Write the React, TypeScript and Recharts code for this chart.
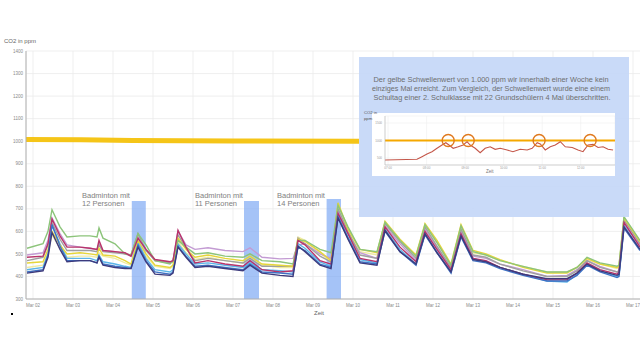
import { LineChart, Line, XAxis, YAxis, CartesianGrid, ReferenceArea, ReferenceDot } from 'recharts';

// time in days (Mar 02 = 2.0)
const days = [
  1.85, 2.25, 2.375, 2.475, 2.675, 2.85, 3.175, 3.425, 3.6, 3.65,
  3.75, 4.05, 4.3, 4.45, 4.625, 4.825, 5.05, 5.425, 5.5, 5.625,
  5.825, 6.05, 6.375, 6.8, 7.25, 7.425, 7.725, 8.175, 8.5, 8.625,
  8.8, 9.175, 9.45, 9.625, 9.875, 10.175, 10.6, 10.8, 11.175, 11.575,
  11.8, 12.1, 12.45, 12.7, 13.0, 13.325, 13.675, 14.25, 14.85, 15.35,
  15.6, 15.85, 16.175, 16.6, 16.65, 16.775, 17.175,
];

const green = [525, 545, 600, 696, 620, 575, 580, 580, 575, 615, 570, 545, 500, 495, 590, 540, 470, 455, 470, 560, 530, 500, 505, 490, 485, 500, 470, 465, 455, 560, 560, 520, 505, 715, 620, 520, 510, 640, 560, 490, 630, 550, 450, 625, 510, 495, 470, 445, 420, 420, 440, 485, 460, 445, 450, 665, 560];
const lavender = [495, 505, 560, 660, 590, 540, 530, 525, 520, 545, 515, 510, 500, 490, 575, 520, 470, 465, 470, 600, 540, 520, 527, 515, 510, 527, 485, 478, 480, 540, 545, 500, 480, 690, 590, 505, 480, 625, 545, 470, 610, 530, 430, 600, 490, 480, 455, 430, 400, 405, 430, 470, 445, 420, 425, 630, 540];
const crimson = [485, 490, 545, 655, 580, 530, 530, 525, 520, 560, 515, 510, 505, 490, 570, 520, 475, 465, 470, 605, 530, 460, 470, 455, 445, 470, 430, 420, 425, 560, 540, 470, 455, 680, 590, 480, 465, 620, 530, 465, 600, 520, 430, 590, 480, 470, 440, 410, 385, 385, 415, 460, 430, 410, 420, 640, 530];
const gray = [470, 485, 540, 640, 565, 515, 515, 515, 510, 540, 510, 505, 500, 495, 590, 515, 470, 460, 465, 585, 525, 470, 480, 470, 460, 480, 445, 445, 445, 570, 545, 490, 465, 700, 600, 495, 480, 635, 555, 480, 620, 535, 440, 610, 495, 485, 455, 425, 400, 400, 425, 470, 440, 420, 425, 650, 545];
const yellow = [460, 465, 520, 600, 540, 500, 505, 500, 495, 525, 495, 490, 470, 455, 560, 500, 450, 440, 450, 570, 520, 485, 495, 480, 470, 490, 455, 450, 445, 565, 555, 510, 470, 727, 610, 520, 505, 645, 565, 495, 635, 560, 455, 630, 515, 500, 475, 440, 415, 415, 440, 480, 455, 440, 445, 660, 555];
const paleYellow = [440, 450, 505, 585, 525, 485, 490, 490, 485, 505, 490, 480, 460, 450, 545, 490, 445, 435, 445, 555, 505, 475, 485, 470, 460, 480, 450, 440, 440, 575, 560, 505, 465, 710, 600, 510, 495, 635, 555, 490, 625, 550, 450, 615, 505, 495, 470, 445, 420, 420, 440, 475, 455, 435, 440, 655, 550];
const lightBlue = [430, 440, 500, 625, 545, 480, 480, 480, 470, 495, 465, 455, 445, 440, 550, 480, 430, 420, 430, 545, 500, 455, 460, 450, 440, 460, 430, 425, 420, 545, 525, 465, 445, 670, 575, 475, 460, 610, 520, 455, 590, 510, 420, 585, 480, 465, 440, 410, 380, 375, 410, 455, 425, 400, 405, 625, 520];
const blue = [420, 430, 495, 630, 535, 470, 470, 470, 460, 490, 455, 445, 440, 435, 540, 470, 420, 410, 420, 535, 490, 445, 450, 440, 430, 455, 420, 415, 410, 530, 515, 455, 440, 665, 570, 465, 455, 600, 510, 450, 585, 505, 415, 575, 470, 460, 435, 405, 380, 380, 405, 450, 420, 395, 400, 615, 515];
const navy = [415, 425, 485, 595, 520, 465, 470, 470, 460, 485, 450, 440, 435, 435, 530, 465, 410, 405, 415, 530, 485, 440, 445, 435, 425, 450, 415, 405, 400, 535, 510, 450, 435, 660, 565, 460, 450, 605, 510, 455, 590, 505, 420, 580, 475, 465, 440, 410, 390, 390, 415, 455, 425, 405, 410, 620, 520];

const thresholdDays = [1.825, 3.2, 4.5, 7.0, 10.15];
const thresholdValues = [1007, 1006, 1003, 1001, 1000];

const dayTicks = [2, 3, 4, 5, 6, 7, 8, 9, 10, 11, 12, 13, 14, 15, 16, 17];
const dayLabels = ['Mar 02', 'Mar 03', 'Mar 04', 'Mar 05', 'Mar 06', 'Mar 07', 'Mar 08', 'Mar 09', 'Mar 10', 'Mar 11', 'Mar 12', 'Mar 13', 'Mar 14', 'Mar 15', 'Mar 16', 'Mar 17'];
const ppmTicks = [300, 400, 500, 600, 700, 800, 900, 1000, 1100, 1200, 1300, 1400];

// badminton sessions: start/end in days, top in ppm
const badmintonStart = [4.47, 7.275, 9.34];
const badmintonEnd = [4.82, 7.65, 9.7];
const badmintonTop = [735, 735, 744];
const badmintonText = ['12 Personen', '11 Personen', '14 Personen'];

// inset: one school day
const insetHours = [6.92, 7.75, 7.88, 8.01, 8.14, 8.27, 8.4, 8.5, 8.58, 8.69, 8.82, 8.95, 9.05, 9.13, 9.26, 9.39, 9.52, 9.65, 9.78, 9.91, 10.09, 10.24, 10.43, 10.61, 10.74, 10.87, 10.95, 11.08, 11.21, 11.34, 11.47, 11.6, 11.78, 11.93, 12.06, 12.19, 12.32, 12.45, 12.58, 12.71, 12.84];
const insetPpm = [443, 463, 537, 614, 680, 777, 871, 937, 871, 777, 820, 871, 966, 871, 777, 652, 777, 820, 748, 777, 730, 680, 748, 730, 777, 937, 900, 730, 820, 871, 966, 820, 800, 730, 680, 871, 890, 800, 820, 748, 730];
const insetCircles = [8.56, 9.08, 10.92, 12.245];
const insetHourTicks = [7, 8, 9, 10, 11, 12];
const insetHourLabels = ['07:00', '08:00', '09:00', '10:00', '11:00', '12:00'];

const seriesColors: [string, number[]][] = [
  ['#f0eba0', paleYellow],
  ['#c39bd3', lavender],
  ['#a0a0a0', gray],
  ['#5bb5e8', lightBlue],
  ['#e6d63a', yellow],
  ['#8cc47a', green],
  ['#b8336a', crimson],
  ['#3f72c4', blue],
  ['#3d3a7c', navy],
];

const rows = days.map((d, i) => {
  const r: Record<string, number> = { day: d };
  seriesColors.forEach(([, vals], k) => { r['s' + k] = vals[i]; });
  return r;
});
const thresholdRows = thresholdDays.map((d, i) => ({ day: d, v: thresholdValues[i] }));
const insetRows = insetHours.map((h, i) => ({ h, v: insetPpm[i] }));
const insetLine = [{ h: 6.92, v: 1000 }, { h: 12.89, v: 1000 }];

const FONT = '"Liberation Sans", Arial, sans-serif';

const DayTick = ({ x, y, payload }: any) => (
  <text x={x} y={y} textAnchor="middle" fontSize={4.5} fill="#8a8a8a" fontFamily={FONT}>
    {dayLabels[dayTicks.indexOf(payload.value)]}
  </text>
);
const PpmTick = ({ y, payload }: any) => (
  <text x={23} y={y + 1.6} textAnchor="end" fontSize={4.5} fill="#8a8a8a" fontFamily={FONT}>
    {payload.value}
  </text>
);

export default function App() {
  return (
    <div style={{ position: 'absolute', left: 0, top: 0, width: 640, height: 360, overflow: 'hidden', background: '#fff', fontFamily: FONT }}>
      <LineChart width={690} height={360} data={rows} margin={{ top: 51, right: 17, bottom: 0, left: 0 }}>
        <CartesianGrid stroke="#ebebeb" strokeWidth={0.8} />
        <XAxis dataKey="day" type="number" domain={[1.825, 18]} ticks={dayTicks} interval={0} allowDataOverflow height={61}
          tick={<DayTick />} tickLine={false} axisLine={{ stroke: '#b0b0b0' }} />
        <YAxis type="number" domain={[300, 1400]} ticks={ppmTicks} interval={0} width={26} tick={<PpmTick />}
          tickLine={false} axisLine={{ stroke: '#b0b0b0' }} />
        <Line data={thresholdRows} dataKey="v" stroke="#f5c518" strokeWidth={5} dot={false} isAnimationActive={false} />
        {seriesColors.map(([c], k) => (
          <Line key={k} dataKey={'s' + k} stroke={c} strokeWidth={1.4} dot={false} isAnimationActive={false} />
        ))}
        {badmintonStart.map((s, i) => (
          <ReferenceArea key={i} x1={s} x2={badmintonEnd[i]} y1={300} y2={badmintonTop[i]} fill="#7fa9f3" fillOpacity={0.7} stroke="none" />
        ))}
      </LineChart>

      <div style={{ position: 'absolute', left: 4, top: 38, fontSize: 6, color: '#666' }}>CO2 in ppm</div>
      <div style={{ position: 'absolute', left: 314, top: 310, fontSize: 6, color: '#666' }}>Zeit</div>
      <div style={{ position: 'absolute', left: 11, top: 313, width: 2, height: 2, background: '#000' }} />

      <svg width={640} height={360} style={{ position: 'absolute', left: 0, top: 0 }}>
        {[82, 195, 277].map((x, i) => (
          <g key={i} fontSize={7.5} fill="#7f7f7f" fontFamily={FONT}>
            <text x={x} y={198}>Badminton mit</text>
            <text x={x} y={206}>{badmintonText[i]}</text>
          </g>
        ))}
      </svg>

      <div style={{ position: 'absolute', left: 359, top: 57, width: 270, height: 160, background: 'rgba(197,215,247,0.93)' }} />
      <svg width={640} height={360} style={{ position: 'absolute', left: 0, top: 0 }}>
        <g fontSize={7.5} fill="#6e6e6e" fontFamily={FONT} textAnchor="middle">
          <text x={491} y={82} textLength={235} lengthAdjust="spacingAndGlyphs">Der gelbe Schwellenwert von 1.000 ppm wir innerhalb einer Woche kein</text>
          <text x={491} y={91} textLength={238} lengthAdjust="spacingAndGlyphs">einziges Mal erreicht. Zum Vergleich, der Schwellenwert  wurde eine einem</text>
          <text x={492} y={100} textLength={237} lengthAdjust="spacingAndGlyphs">Schultag einer 2. Schulklasse mit 22 Grundschülern  4 Mal überschritten.</text>
        </g>
      </svg>
      <div style={{ position: 'absolute', left: 372, top: 113, width: 243, height: 63, background: '#fff' }}>
        <LineChart width={243} height={63} data={insetRows} margin={{ top: 3, right: 0, bottom: 0, left: 0 }}>
          <CartesianGrid stroke="#efefef" strokeWidth={0.6} />
          <XAxis dataKey="h" type="number" domain={[6.92, 12.89]} ticks={insetHourTicks} interval={0} height={11} allowDataOverflow
            tick={({ x, y, payload }: any) => (
              <text x={x} y={y - 4} textAnchor="middle" fontSize={3} fill="#999" fontFamily={FONT}>
                {insetHourLabels[insetHourTicks.indexOf(payload.value)]}
              </text>
            )}
            tickLine={false} axisLine={{ stroke: '#bbb', strokeWidth: 0.6 }} />
          <YAxis type="number" domain={[300, 1700]} ticks={[500, 1000, 1500]} interval={0} width={13}
            tick={({ y, payload }: any) => (
              <text x={10} y={y + 1} textAnchor="end" fontSize={3} fill="#999" fontFamily={FONT}>{payload.value}</text>
            )}
            tickLine={false} axisLine={{ stroke: '#bbb', strokeWidth: 0.6 }} />
          <Line data={insetLine} dataKey="v" stroke="#f5a800" strokeWidth={2} dot={false} isAnimationActive={false} />
          <Line dataKey="v" stroke="#c4574a" strokeWidth={1.1} dot={false} isAnimationActive={false} />
          {insetCircles.map((h, i) => (
            <ReferenceDot key={i} x={h} y={1000} r={6} fill="none" stroke="#e07a1f" strokeWidth={1.4} />
          ))}
        </LineChart>
        <div style={{ position: 'absolute', left: 114, top: 56, fontSize: 4.5, color: '#777' }}>Zeit</div>
      </div>
      <svg width={640} height={360} style={{ position: 'absolute', left: 0, top: 0 }}>
        <g fontSize={4.2} fill="#555" fontFamily={FONT}>
          <text x={364} y={114}>CO2 in</text>
          <text x={364} y={120}>ppm</text>
        </g>
      </svg>
    </div>
  );
}
